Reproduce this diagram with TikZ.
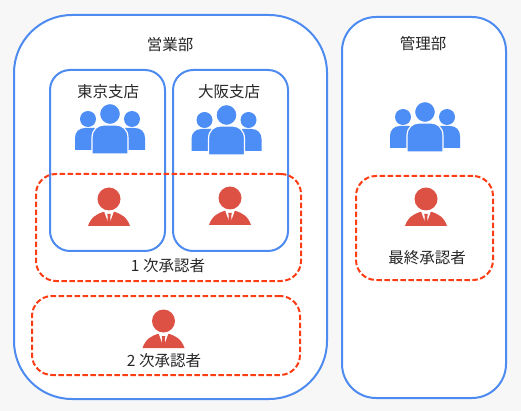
\documentclass[tikz,border=0pt]{standalone}
\usepackage{fontspec}
\setmainfont{Noto Sans CJK JP}
\usetikzlibrary{positioning}
\definecolor{pagebg}{HTML}{F7F7F7}
\definecolor{deptblue}{HTML}{4D8BF0}
\definecolor{iconblue}{HTML}{4C8DF6}
\definecolor{apprdash}{HTML}{FF3D14}
\definecolor{iconred}{HTML}{DD5044}
\tikzset{
  deptbox/.style={draw=deptblue,line width=2pt,fill=white,inner sep=0pt},
  apprbox/.style={draw=apprdash,line width=2pt,dash pattern=on 5.5pt off 2.5pt,inner sep=0pt,rounded corners=20pt},
  lbl/.style={font=\fontsize{15.5}{17}\selectfont,text=black!85,inner sep=0pt},
  people/.pic={
    \fill[iconblue] (-22,5) circle (8) (22,5) circle (8);
    \fill[iconblue] (-35,36) -- (-35,24) .. controls (-35,18) and (-31,14) .. (-25,14) -- (-15,14) -- (-15,36) -- cycle;
    \fill[iconblue] (35,36) -- (35,24) .. controls (35,18) and (31,14) .. (25,14) -- (15,14) -- (15,36) -- cycle;
    \fill[iconblue,draw=white,line width=1.2pt] (0,0) circle (10.5);
    \fill[iconblue,draw=white,line width=1.2pt] (-18,40) -- (-18,24) .. controls (-18,15) and (-12,11) .. (-6,11)
      -- (6,11) .. controls (12,11) and (18,15) .. (18,24) -- (18,40) -- cycle;
  },
  person/.pic={
    \fill[iconred] (0,0) circle (11.5);
    \fill[iconred] (-21,27) .. controls (-18,18) and (-12,15) .. (-6,13) -- (6,13)
      .. controls (12,15) and (18,18) .. (21,27) -- cycle;
    \fill[white] (-5,12) -- (5,12) -- (0,26) -- cycle;
    \fill[iconred] (-1.8,15) -- (1.8,15) -- (1.2,18) -- (2,25) -- (0,27) -- (-2,25) -- (-1.2,18) -- cycle;
  }
}
\begin{document}
\begin{tikzpicture}[x=1pt,y=-1pt]
\useasboundingbox (0,0) rectangle (521,411);
\fill[pagebg] (0,0) rectangle (521,411);
% departments
\node[deptbox,rounded corners=58pt,minimum width=313pt,minimum height=384pt] (sales) at (170.5,207) {};
\node[deptbox,rounded corners=34pt,minimum width=164pt,minimum height=381pt] (admin) at (424,207.5) {};
\node[lbl] (salesname) at (170,45) {営業部};
\node[lbl] (adminname) at (423,44) {管理部};
% branches
\node[deptbox,rounded corners=20pt,minimum width=115pt,minimum height=181pt] (tokyo) at (107.5,160.5) {};
\node[deptbox,rounded corners=20pt,minimum width=115pt,minimum height=181pt] (osaka) at (230.5,160.5) {};
\node[lbl] (tokyoname) at (108,92) {東京支店};
\node[lbl] (osakaname) at (229,92) {大阪支店};
\pic at (110,114) {people};
\pic at (226.5,115) {people};
\pic at (425,112) {people};
% approvers
\node[apprbox,minimum width=265pt,minimum height=107pt] (first) at (168.5,227.5) {};
\node[apprbox,minimum width=268pt,minimum height=79pt] (second) at (166,335.5) {};
\node[apprbox,minimum width=137pt,minimum height=104pt] (final) at (424.5,228) {};
\pic at (109,199) {person};
\pic at (230,198) {person};
\pic at (163.5,321) {person};
\pic at (426,199) {person};
\node[lbl] (firstname) at (168,266) {1 次承認者};
\node[lbl] (secondname) at (164,361) {2 次承認者};
\node[lbl] (finalname) at (427,258) {最終承認者};
\end{tikzpicture}
\end{document}
